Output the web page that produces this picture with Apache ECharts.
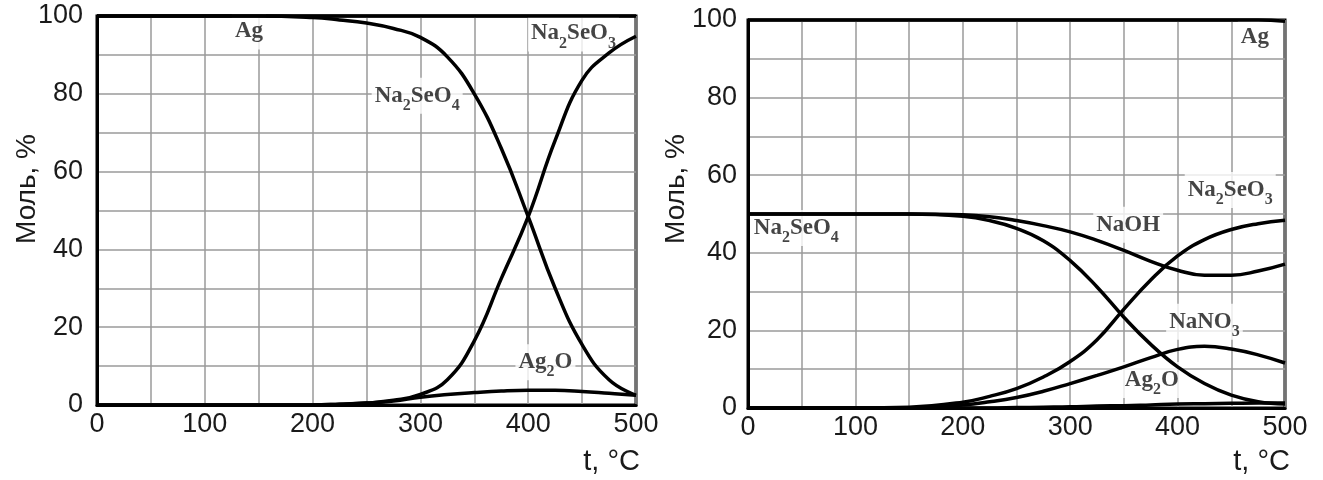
<!DOCTYPE html>
<html><head><meta charset="utf-8">
<script src="https://cdn.jsdelivr.net/npm/echarts@6/dist/echarts.min.js"></script>
<style>html,body{margin:0;padding:0;background:#fff}#c{width:1323px;height:480px}</style>
</head><body><div id="c"></div>
<script>
// Temperature grid (°C)
const temps = [0, 50, 100, 150, 200, 225, 250, 275, 300, 325, 350, 375, 400, 425, 450, 475, 500];
const xTickLabels = ['0', '100', '200', '300', '400', '500'];
const yTickLabels = ['0', '20', '40', '60', '80', '100'];
const yAxisName = 'Моль, %';
const xAxisName = 't, °C';

// Left panel
const L_Ag      = [100,100,100,100,100,100,100,100,100,100,100,100,100,100,100,100,100];
const L_Na2SeO4 = [100,100,100,100,99.6,99.0,98.2,96.8,94.5,89.5,80.0,66.0,48.4,30.0,15.5,6.5,2.5];
const L_Na2SeO3 = [0,0,0,0,0,0.2,0.5,1.2,2.7,6.5,16.5,32.5,48.4,68.0,83.5,90.5,94.8];
const L_Ag2O    = [0,0,0,0,0,0.2,0.5,1.0,2.0,2.7,3.2,3.6,3.8,3.8,3.5,3.0,2.5];

// Right panel
const R_Ag      = [100,100,100,100,100,100,100,100,100,100,100,100,100,100,100,100,99.7];
const R_Na2SeO4 = [50,50,50,50,49.4,48.3,46.3,43.1,38.0,31.2,23.4,16.4,10.6,6.3,3.3,1.6,1.0];
const R_NaOH    = [50,50,50,50,49.8,49.3,48.3,47.0,45.4,43.2,40.6,37.8,35.5,34.2,34.2,35.3,37.1];
const R_Na2SeO3 = [0,0,0,0.2,1.5,3.0,5.0,8.0,12.0,17.6,25.5,33.0,39.2,43.4,46.0,47.5,48.4];
const R_NaNO3   = [0,0,0,0,0.8,1.6,2.7,4.3,6.3,8.4,10.6,13.0,15.1,15.9,15.2,13.7,11.6];
const R_Ag2O    = [0,0,0,0,0,0,0.1,0.2,0.3,0.5,0.6,0.8,1.0,1.1,1.2,1.3,1.3];

// Curve labels: [text, t, value]
const L_labels = [['Ag',141,96],['Na2SeO4',297,79.5],['Na2SeO3',442,95.5],['Ag2O',416,11]];
const R_labels = [['Ag',472,95.5],['Na2SeO4',45,46.4],['NaOH',354,47.2],['Na2SeO3',449,56.2],['NaNO3',425,22.2],['Ag2O',376,7.2]];

function pairs(v){ return temps.map((t,i)=>[t, v[i]]); }
function toRich(s){
  let r = '{m|' + s.replace(/(\d)/g, '}{s|$1}{m|') + '}';
  return r.replace(/\{m\|\}/g, '');
}
const axisFont = {fontFamily:'Liberation Sans, Arial, sans-serif', fontSize:27, color:'#1a1a1a'};

function xAxis(gi){
  return {type:'value', gridIndex:gi, min:0, max:500, interval:50,
    axisLine:{show:true, onZero:false, lineStyle:{color:'#000', width:3}},
    axisTick:{show:false},
    splitLine:{show:true, lineStyle:{color:'#9a9a9a', width:1.5}},
    axisLabel:Object.assign({margin:6, formatter:v=>xTickLabels.includes(String(v))?String(v):''}, axisFont)};
}
function yAxis(gi, margin){
  return {type:'value', gridIndex:gi, min:0, max:100, interval:10,
    axisLine:{show:true, onZero:false, lineStyle:{color:'#000', width:3}},
    axisTick:{show:false},
    splitLine:{show:true, lineStyle:{color:'#9a9a9a', width:1.5}},
    axisLabel:Object.assign({margin:margin, formatter:v=>yTickLabels.includes(String(v))?String(v):''}, axisFont)};
}
function line(gi, vals){
  return {type:'line', xAxisIndex:gi, yAxisIndex:gi, data:pairs(vals), smooth:0.45,
    showSymbol:false, symbol:'none', clip:false, z:5, silent:true,
    lineStyle:{color:'#000', width:3.5}};
}
function labelSeries(gi, labels){
  return {type:'scatter', xAxisIndex:gi, yAxisIndex:gi, symbolSize:0, z:3, silent:true,
    data: labels.map(l=>({value:[l[1], l[2]], name:l[0]})),
    label:{show:true, position:'inside', backgroundColor:'#fff', padding:[0,3],
      formatter:p=>toRich(p.name),
      rich:{
        m:{fontFamily:'Liberation Serif, Times New Roman, serif', fontWeight:'bold', fontSize:23, color:'#151515', lineHeight:36},
        s:{fontFamily:'Liberation Serif, Times New Roman, serif', fontWeight:'bold', fontSize:16, color:'#151515', verticalAlign:'bottom'}
      }}};
}

const chart = echarts.init(document.getElementById('c'), null, {renderer:'canvas'});
chart.setOption({
  animation:false,
  backgroundColor:'#fff',
  grid:[
    {left:97, top:16, width:539, height:389, show:true, borderColor:'#000', borderWidth:3, backgroundColor:'#fff'},
    {left:748, top:20, width:537, height:388, show:true, borderColor:'#000', borderWidth:3, backgroundColor:'#fff'}
  ],
  xAxis:[xAxis(0), xAxis(1)],
  yAxis:[yAxis(0,14), yAxis(1,11)],
  series:[
    line(0,L_Ag), line(0,L_Na2SeO4), line(0,L_Na2SeO3), line(0,L_Ag2O),
    line(1,R_Ag), line(1,R_Na2SeO4), line(1,R_NaOH), line(1,R_Na2SeO3), line(1,R_NaNO3), line(1,R_Ag2O),
    labelSeries(0,L_labels), labelSeries(1,R_labels)
  ],
  graphic:[
    {type:'text', x:27, y:189, rotation:Math.PI/2, style:{text:yAxisName, fill:'#1a1a1a', font:'28px "Liberation Sans", Arial, sans-serif', textAlign:'center', textVerticalAlign:'middle'}},
    {type:'text', x:676, y:189, rotation:Math.PI/2, style:{text:yAxisName, fill:'#1a1a1a', font:'28px "Liberation Sans", Arial, sans-serif', textAlign:'center', textVerticalAlign:'middle'}},
    {type:'text', x:640, y:462, style:{text:xAxisName, fill:'#1a1a1a', font:'29px "Liberation Sans", Arial, sans-serif', textAlign:'right', textVerticalAlign:'middle'}},
    {type:'text', x:1290, y:462, style:{text:xAxisName, fill:'#1a1a1a', font:'29px "Liberation Sans", Arial, sans-serif', textAlign:'right', textVerticalAlign:'middle'}}
  ]
});
</script></body></html>
